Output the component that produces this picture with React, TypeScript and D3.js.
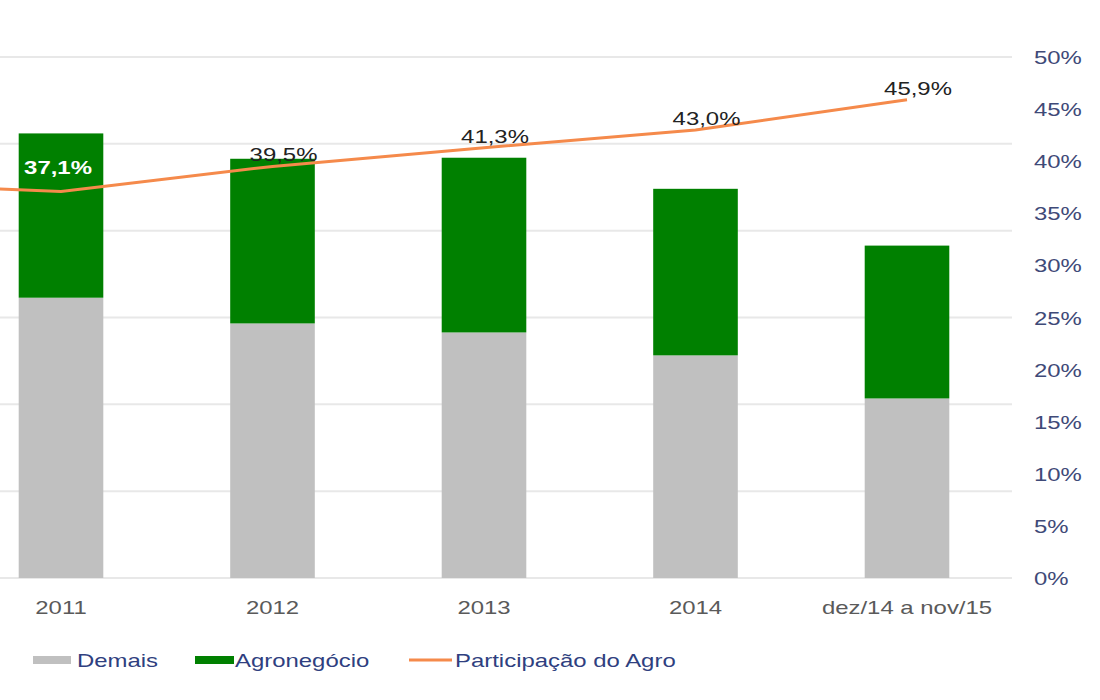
import React from 'react';
import * as d3 from 'd3';

// Exportações brasileiras (US$ bilhões) e participação do agronegócio (%)
const categories = ['2010', '2011', '2012', '2013', '2014', 'dez/14 a nov/15'];
const demais = [125.5, 161.4, 146.6, 141.4, 128.2, 103.4];
const agro = [76.4, 94.6, 94.8, 100.6, 95.9, 88.0];
const participacao = [37.9, 37.1, 39.5, 41.3, 43.0, 45.9];
const shareLabels = ['37,9%', '37,1%', '39,5%', '41,3%', '43,0%', '45,9%'];
const leftTicks = [0, 50, 100, 150, 200, 250, 300];
const rightTicks = [0, 5, 10, 15, 20, 25, 30, 35, 40, 45, 50];

const W = 1100;
const H = 700;
const SX = 1.33; // the source picture is stretched horizontally
const FONT = '"Liberation Sans", Arial, sans-serif';

const GRAY = '#c0c0c0';
const GREEN = '#008000';
const ORANGE = '#f58a4b';

// stretched text helper
const T: React.FC<{
  x: number; y: number; fill: string; anchor?: string; weight?: string; size?: number; children: React.ReactNode;
}> = ({ x, y, fill, anchor = 'middle', weight = 'normal', size = 18, children }) => (
  <text
    transform={`translate(${x},${y}) scale(${SX},1)`}
    textAnchor={anchor}
    fill={fill}
    fontWeight={weight}
    fontSize={size}
    fontFamily={FONT}
  >
    {children}
  </text>
);

export default function App() {
  // plot area starts off-screen on the left (the picture is cropped)
  const x = d3.scaleBand<string>()
    .domain(categories)
    .range([-256.25, 1012.75])
    .paddingInner(0.6)
    .paddingOuter(0.3);
  const yLeft = d3.scaleLinear().domain([0, 300]).range([578, 57]);
  const yRight = d3.scaleLinear().domain([0, 50]).range([578, 57]);

  const cx = (c: string) => (x(c) as number) + x.bandwidth() / 2;
  // only categories whose centre is inside the visible crop get text
  const visible = categories.filter(c => cx(c) > 0);

  const line = d3.line<number>()
    .x((_, i) => cx(categories[i]))
    .y(d => yRight(d));

  return (
    <div style={{ position: 'absolute', left: 0, top: 0 }}>
      <svg width={W} height={H} style={{ display: 'block', background: '#fff' }}>
        {/* gridlines */}
        {leftTicks.map(t => (
          <line key={t} x1={-256} x2={1012} y1={yLeft(t)} y2={yLeft(t)} stroke="#e8e8e8" strokeWidth={2} />
        ))}

        {/* stacked bars */}
        {categories.map((c, i) => (
          <g key={c}>
            <rect x={x(c)} width={x.bandwidth()} y={yLeft(demais[i])} height={yLeft(0) - yLeft(demais[i])} fill={GRAY} />
            <rect
              x={x(c)}
              width={x.bandwidth()}
              y={yLeft(demais[i] + agro[i])}
              height={yLeft(demais[i]) - yLeft(demais[i] + agro[i])}
              fill={GREEN}
            />
          </g>
        ))}

        {/* share line */}
        <path d={line(participacao) || ''} fill="none" stroke={ORANGE} strokeWidth={3} />

        {/* share labels */}
        {visible.map(c => {
          const i = categories.indexOf(c);
          return i === 1 ? (
            <T key={c} x={cx(c) - 3} y={yRight(participacao[i]) - 17} fill="#fff" weight="bold">
              {shareLabels[i]}
            </T>
          ) : (
            <T key={c} x={cx(c) + 11} y={yRight(participacao[i]) - 5} fill="#222">
              {shareLabels[i]}
            </T>
          );
        })}

        {/* right axis */}
        {rightTicks.map(t => (
          <T key={t} x={1034} y={yRight(t) + 7} fill="#3f4a78" anchor="start">
            {`${t}%`}
          </T>
        ))}

        {/* x axis labels */}
        {visible.map(c => (
          <T key={c} x={cx(c)} y={614} fill="#5a5a5a">
            {c}
          </T>
        ))}

        {/* legend */}
        <rect x={33} y={656} width={38} height={8} fill={GRAY} />
        <T x={77} y={667} fill="#2f3f80" anchor="start">Demais</T>
        <rect x={195} y={656} width={39} height={8} fill={GREEN} />
        <T x={235} y={667} fill="#2f3f80" anchor="start">Agronegócio</T>
        <line x1={409} x2={452} y1={660} y2={660} stroke={ORANGE} strokeWidth={3} />
        <T x={455} y={667} fill="#2f3f80" anchor="start">Participação do Agro</T>
      </svg>
    </div>
  );
}
